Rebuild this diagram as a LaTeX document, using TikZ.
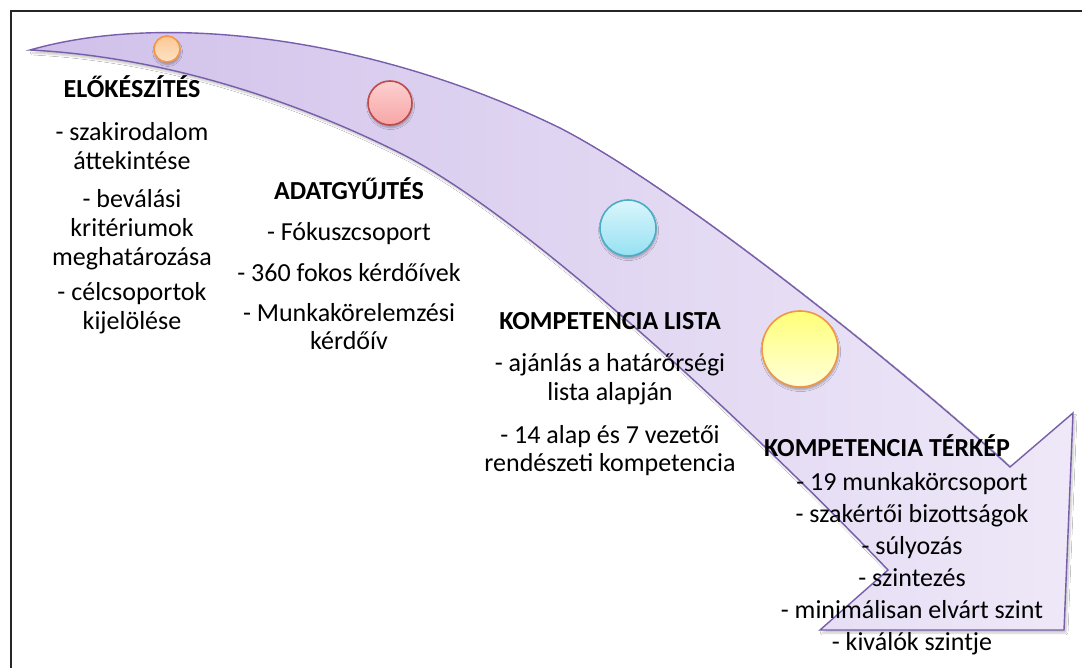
\documentclass[tikz,border=0pt]{standalone}
\usepackage{fontspec}
\setmainfont{Carlito}
\usetikzlibrary{shadows.blur}
\definecolor{arrowL}{RGB}{208,192,234}
\definecolor{arrowR}{RGB}{238,232,248}
\definecolor{arrowLine}{RGB}{120,94,170}
\definecolor{orLine}{RGB}{245,150,70}
\definecolor{orTop}{RGB}{252,200,150}
\definecolor{orBot}{RGB}{254,226,196}
\definecolor{rdLine}{RGB}{190,75,72}
\definecolor{rdTop}{RGB}{252,208,208}
\definecolor{rdBot}{RGB}{248,165,165}
\definecolor{blLine}{RGB}{75,172,198}
\definecolor{blTop}{RGB}{218,246,252}
\definecolor{blBot}{RGB}{150,225,242}
\definecolor{yeLine}{RGB}{240,150,70}
\definecolor{yeTop}{RGB}{255,255,120}
\definecolor{yeBot}{RGB}{255,255,218}
\begin{document}
\begin{tikzpicture}[x=1pt,y=-1pt,
  txt/.style={anchor=base, inner sep=0pt, font=\fontsize{26}{31}\selectfont},
  head/.style={anchor=base, inner sep=0pt, font=\fontsize{26}{31}\selectfont\bfseries},
  dot/.style={circle, inner sep=0pt, line width=1.6pt,
    blur shadow={shadow xshift=0.6pt, shadow yshift=-2.6pt, shadow blur steps=6, shadow opacity=30}},
  arrowbody/.style={draw=arrowLine, line width=1.4pt, line join=miter,
    left color=arrowL, right color=arrowR,
    blur shadow={shadow xshift=2pt, shadow yshift=-3pt, shadow blur steps=6, shadow opacity=22}},
]
\useasboundingbox (0,0) rectangle (1082,668);
\fill[white] (0,0) rectangle (1082,668);

% outer frame (runs off the right and bottom edges)
\draw[line width=2pt, black!85] (10.5,11.3) rectangle (1110,700);

% curved block arrow
\path[arrowbody] (30,50) .. controls (170,10) and (380,40) .. (560,128)
  .. controls (680,190) and (900,367) .. (1010,467)
  -- (1073,413) -- (1064,630) -- (820,630) -- (888,570)
  .. controls (768,444) and (530,218) .. (400,153)
  .. controls (330,118) and (190,58) .. (30,50) -- cycle;

% milestone dots
\node[dot, draw=orLine, top color=orTop, bottom color=orBot, minimum size=26pt] (d1) at (167,49) {};
\node[dot, draw=rdLine, top color=rdTop, bottom color=rdBot, minimum size=44pt] (d2) at (390,103) {};
\node[dot, draw=blLine, top color=blTop, bottom color=blBot, minimum size=56pt] (d3) at (628,228) {};
\node[dot, draw=yeLine, top color=yeTop, bottom color=yeBot, minimum size=76pt] (d4) at (800,349) {};

% phase 1
\node[head] (p1h) at (132,98) {ELŐKÉSZÍTÉS};
\node[txt] (p1a) at (132,141) {- szakirodalom};
\node[txt] (p1b) at (132,170) {áttekintése};
\node[txt] (p1c) at (132,208) {- beválási};
\node[txt] (p1d) at (132,237) {kritériumok};
\node[txt] (p1e) at (132,266) {meghatározása};
\node[txt] (p1f) at (132,301) {- célcsoportok};
\node[txt] (p1g) at (132,330) {kijelölése};

% phase 2
\node[head] (p2h) at (349,200) {ADATGYŰJTÉS};
\node[txt] (p2a) at (349,241) {- Fókuszcsoport};
\node[txt] (p2b) at (349,282) {- 360 fokos kérdőívek};
\node[txt] (p2c) at (349,322) {- Munkakörelemzési};
\node[txt] (p2d) at (349,350) {kérdőív};

% phase 3
\node[head] (p3h) at (610,330) {KOMPETENCIA LISTA};
\node[txt] (p3a) at (610,372) {- ajánlás a határőrségi};
\node[txt] (p3b) at (610,400) {lista alapján};
\node[txt] (p3c) at (610,443) {- 14 alap és 7 vezetői};
\node[txt] (p3d) at (610,471) {rendészeti kompetencia};

% phase 4
\node[head] (p4h) at (887,456) {KOMPETENCIA TÉRKÉP};
\node[txt] (p4a) at (912,490) {- 19 munkakörcsoport};
\node[txt] (p4b) at (912,522) {- szakértői bizottságok};
\node[txt] (p4c) at (912,554) {- súlyozás};
\node[txt] (p4d) at (912,586) {- szintezés};
\node[txt] (p4e) at (912,618) {- minimálisan elvárt szint};
\node[txt] (p4f) at (912,650) {- kiválók szintje};
\end{tikzpicture}
\end{document}
